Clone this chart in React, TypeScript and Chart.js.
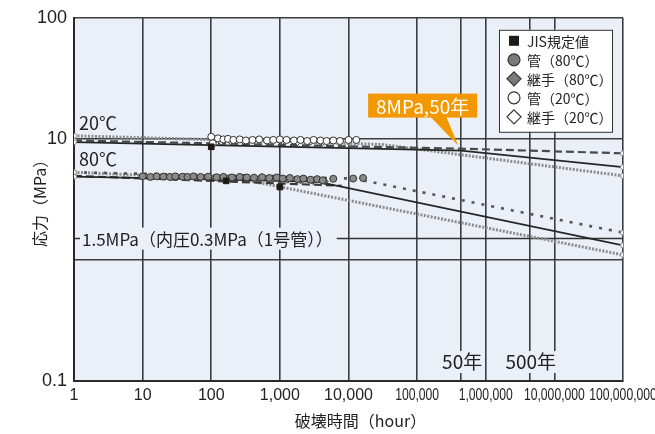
import React, { useEffect, useRef } from "react";
import { Chart, registerables } from "chart.js";
Chart.register(...registerables);

// ---- axis ticks ----
const xTicks = [1, 10, 100, 1000, 10000, 100000, 1000000, 10000000, 100000000];
const xTickLabels = ["1", "10", "100", "1,000", "10,000", "100,000", "1,000,000", "10,000,000", "100,000,000"];
const yTicks = [0.1, 1, 10, 100];
const yTickLabels = ["0.1", "", "10", "100"];
const yearMarks = [438000, 4380000];
const yearLabels = ["50年", "500年"];

// ---- regression / design lines (hours, MPa) ----
const line20SolidX = [1, 438000, 1e8];
const line20SolidY = [9.4, 8.0, 5.85];
const line20DashX = [1, 438000, 1e8];
const line20DashY = [9.7, 8.3, 7.6];
const line20DotX = [1, 30000, 1e8];
const line20DotY = [10.6, 9.0, 4.95];

const line80SolidX = [1, 3500, 1e8];
const line80SolidY = [4.87, 4.43, 1.32];
const line80DashX = [1, 8000];
const line80DashY = [4.95, 4.1];
const line80DotDarkX = [1, 12000, 1e8];
const line80DotDarkY = [5.3, 4.7, 1.68];
const line80DotGreyX = [1, 300, 1e8];
const line80DotGreyY = [5.3, 4.6, 1.1];

const refLineX = [1, 1e8];
const refLineY = [1.5, 1.5];

// ---- measured points ----
const jisX = [100, 165, 1000];
const jisY = [8.6, 4.5, 4.0];

const pipe80X = [10, 13, 16, 20, 25, 30, 38, 45, 55, 70, 90, 120, 150, 200, 260, 330, 420, 550, 700, 900, 1100, 1400, 1800, 2200, 2800, 3500, 4200, 6000, 11700, 16300];
const pipe80Y = [4.9, 4.85, 4.9, 4.88, 4.85, 4.9, 4.87, 4.85, 4.9, 4.85, 4.87, 4.82, 4.85, 4.8, 4.85, 4.8, 4.78, 4.82, 4.75, 4.8, 4.7, 4.75, 4.65, 4.7, 4.6, 4.65, 4.55, 4.68, 4.7, 4.75];
const joint80X = [30, 60, 110, 180, 300, 500, 800, 1300, 2000, 3000, 4500];
const joint80Y = [4.8, 4.82, 4.78, 4.75, 4.8, 4.7, 4.72, 4.6, 4.55, 4.5, 4.45];

const pipe20X = [100, 105, 125, 150, 175, 210, 260, 320, 400, 500, 650, 800, 1000, 1250, 1600, 2000, 2500, 3100, 3900, 4800, 6000, 7500, 10000, 13000];
const pipe20Y = [10.4, 9.2, 10.1, 9.9, 10.0, 9.8, 9.9, 9.7, 9.8, 9.9, 9.7, 9.8, 9.9, 9.8, 9.7, 9.8, 9.6, 9.8, 9.7, 9.6, 9.7, 9.6, 9.8, 9.8];
const joint20X = [110, 140, 190, 300, 450, 700, 1100, 1800, 2800, 4200];
const joint20Y = [9.6, 9.5, 9.6, 9.5, 9.6, 9.5, 9.6, 9.4, 9.5, 9.4];

// ---- annotation anchors ----
const calloutX = 438000;
const calloutY = 8;
const calloutText = "8MPa,50年";
const label20 = "20℃";
const label80 = "80℃";
const refLabel = "1.5MPa（内圧0.3MPa（1号管））";
const legendLabels = ["JIS規定値", "管（80℃）", "継手（80℃）", "管（20℃）", "継手（20℃）"];

const FONT_JP = '"Noto Sans CJK JP", "Noto Sans", sans-serif';
const FONT_NUM = '"Liberation Sans", Arial, sans-serif';
const PLOT_BG = "#ebeff8";
const GRID = "#3d3d3d";

const pts = (xs: number[], ys: number[]) => xs.map((x, i) => ({ x, y: ys[i] }));

const lineDs = (xs: number[], ys: number[], color: string, width: number, dash: number[], ends: boolean) => ({
  type: "line" as const,
  data: pts(xs, ys),
  borderColor: color,
  borderWidth: width,
  borderDash: dash,
  borderCapStyle: "butt" as const,
  fill: false,
  tension: 0,
  pointRadius: (c: any) => (ends && (c.dataIndex === 0 || c.dataIndex === xs.length - 1) ? 2.5 : 0),
  pointBackgroundColor: "#fff",
  pointBorderColor: "#8a8a8a",
  pointBorderWidth: 1,
  order: 5,
});

const scatterDs = (xs: number[], ys: number[], style: string, r: number, fillC: string, borderC: string) => ({
  type: "scatter" as const,
  data: pts(xs, ys),
  showLine: false,
  pointStyle: style,
  pointRadius: r,
  pointBackgroundColor: fillC,
  pointBorderColor: borderC,
  pointBorderWidth: 1,
  backgroundColor: fillC,
  borderColor: borderC,
  order: 1,
});

const bgPlugin = {
  id: "bgPlot",
  beforeDraw(chart: any) {
    const { ctx, chartArea: a } = chart;
    ctx.save();
    ctx.fillStyle = "#fff";
    ctx.fillRect(0, 0, chart.width, chart.height);
    ctx.fillStyle = PLOT_BG;
    ctx.fillRect(a.left, a.top, a.right - a.left, a.bottom - a.top);
    ctx.restore();
  },
};

const annotPlugin = {
  id: "annot",
  afterDatasetsDraw(chart: any) {
    const { ctx, chartArea: a } = chart;
    const xs = chart.scales.x;
    const ys = chart.scales.y;
    ctx.save();

    // x tick labels (condensed for large values)
    ctx.fillStyle = "#222";
    ctx.textAlign = "center";
    ctx.textBaseline = "middle";
    ctx.font = `16px ${FONT_NUM}`;
    xTicks.forEach((v, i) => {
      const px = xs.getPixelForValue(v);
      ctx.save();
      ctx.translate(px, a.bottom + 15);
      if (v >= 1e5) ctx.scale(0.76, 1);
      ctx.fillText(xTickLabels[i], 0, 0);
      ctx.restore();
    });

    // x title
    ctx.font = `16px ${FONT_JP}`;
    ctx.fillText("破壊時間（hour）", (a.left + a.right) / 2 + 12, a.bottom + 40);

    // year labels on vertical lines
    ctx.font = `19px ${FONT_JP}`;
    yearMarks.forEach((v, i) => {
      const px = xs.getPixelForValue(v);
      const w = ctx.measureText(yearLabels[i]).width;
      const cy = a.bottom - 19;
      ctx.fillStyle = PLOT_BG;
      ctx.fillRect(px - w / 2 - 1, cy - 11, w + 2, 22);
      ctx.fillStyle = "#222";
      ctx.fillText(yearLabels[i], px + 1, cy);
    });

    // 1.5 MPa label over its line
    const ry = ys.getPixelForValue(1.5);
    ctx.font = `17px ${FONT_JP}`;
    ctx.textAlign = "left";
    const rw = ctx.measureText(refLabel).width;
    ctx.fillStyle = PLOT_BG;
    ctx.fillRect(a.left + 6, ry - 11, rw + 6, 22);
    ctx.fillStyle = "#222";
    ctx.fillText(refLabel, a.left + 8, ry + 1);

    // temperature labels
    ctx.font = `18px ${FONT_JP}`;
    ctx.textBaseline = "alphabetic";
    ctx.fillText(label20, a.left + 5, ys.getPixelForValue(10) - 9);
    ctx.fillText(label80, a.left + 5, ys.getPixelForValue(5.3) - 6);

    ctx.restore();
  },
  afterDraw(chart: any) {
    const { ctx, chartArea: a } = chart;
    const xs = chart.scales.x;
    const ys = chart.scales.y;
    ctx.save();

    // callout
    const px = xs.getPixelForValue(calloutX);
    const py = ys.getPixelForValue(calloutY);
    const bx = px - 93, by = py - 57, bw = 109, bh = 24;
    ctx.fillStyle = "#f39800";
    ctx.fillRect(bx, by, bw, bh);
    ctx.beginPath();
    ctx.moveTo(px - 31, by + bh - 1);
    ctx.lineTo(px - 15, by + bh - 1);
    ctx.lineTo(px - 3, py - 5);
    ctx.closePath();
    ctx.fill();
    ctx.fillStyle = "#fff";
    ctx.font = `19px ${FONT_JP}`;
    ctx.textAlign = "center";
    ctx.textBaseline = "middle";
    ctx.fillText(calloutText, bx + bw / 2, by + bh / 2 + 1);

    // legend
    const lx = a.right - 124, ly = a.top + 12, lw = 113, lh = 102;
    ctx.fillStyle = "#fff";
    ctx.fillRect(lx, ly, lw, lh);
    ctx.strokeStyle = "#333";
    ctx.lineWidth = 1;
    ctx.strokeRect(lx + 0.5, ly + 0.5, lw, lh);
    ctx.font = `14px ${FONT_JP}`;
    ctx.textAlign = "left";
    ctx.textBaseline = "middle";
    legendLabels.forEach((t, i) => {
      const cy = ly + 11 + i * 19;
      const cx = lx + 15;
      ctx.lineWidth = 1.2;
      ctx.strokeStyle = "#333";
      if (i === 0) {
        ctx.fillStyle = "#1e1a18";
        ctx.fillRect(cx - 5, cy - 5, 10, 10);
      } else if (i === 1 || i === 3) {
        ctx.beginPath();
        ctx.arc(cx, cy, 6, 0, Math.PI * 2);
        ctx.fillStyle = i === 1 ? "#7a7a7a" : "#fff";
        ctx.fill();
        ctx.stroke();
      } else {
        ctx.beginPath();
        ctx.moveTo(cx, cy - 7);
        ctx.lineTo(cx + 7, cy);
        ctx.lineTo(cx, cy + 7);
        ctx.lineTo(cx - 7, cy);
        ctx.closePath();
        ctx.fillStyle = i === 2 ? "#7a7a7a" : "#fff";
        ctx.fill();
        ctx.stroke();
      }
      ctx.fillStyle = "#222";
      ctx.fillText(t, lx + 28, cy + 1);
    });
    ctx.restore();
  },
};

export default function App() {
  const ref = useRef<HTMLCanvasElement>(null);
  useEffect(() => {
    const canvas = ref.current!;
    const datasets: any[] = [
      scatterDs(jisX, jisY, "rect", 4, "#1e1a18", "#1e1a18"),
      scatterDs(pipe20X, pipe20Y, "circle", 3.5, "#fff", "#333"),
      scatterDs(joint20X, joint20Y, "rectRot", 3.5, "#fff", "#333"),
      scatterDs(pipe80X, pipe80Y, "circle", 3.5, "#8a8a8a", "#333"),
      scatterDs(joint80X, joint80Y, "rectRot", 3.5, "#7a7a7a", "#333"),
      lineDs(line20SolidX, line20SolidY, "#262626", 1.8, [], true),
      lineDs(line20DashX, line20DashY, "#4a4a4a", 2.2, [8, 4], true),
      lineDs(line20DotX, line20DotY, "#8c8c8c", 3, [2, 1.5], true),
      lineDs(line80SolidX, line80SolidY, "#262626", 1.8, [], true),
      lineDs(line80DashX, line80DashY, "#3a3a3a", 2.2, [8, 4], false),
      lineDs(line80DotDarkX, line80DotDarkY, "#555", 2.6, [3, 7], true),
      lineDs(line80DotGreyX, line80DotGreyY, "#8c8c8c", 3, [2, 1.5], true),
      { ...lineDs(refLineX, refLineY, "#333", 1.5, [], false), order: 8 },
    ];
    const chart = new Chart(canvas, {
      type: "line",
      data: { datasets },
      options: {
        animation: false,
        responsive: false,
        devicePixelRatio: 1,
        layout: { autoPadding: false, padding: { left: 0, right: 32, top: 10, bottom: 0 } } as any,
        plugins: { legend: { display: false }, tooltip: { enabled: false } },
        scales: {
          x: {
            type: "logarithmic",
            min: 1,
            max: 1e8,
            afterBuildTicks: (s: any) => {
              s.ticks = [...xTicks, ...yearMarks].sort((p, q) => p - q).map((v) => ({ value: v }));
            },
            afterFit: (s: any) => {
              s.height = 53;
            },
            ticks: { display: false },
            grid: { color: GRID, lineWidth: 1.6, drawTicks: false },
            border: { display: true, color: "#2a2a2a", width: 2 },
          },
          y: {
            type: "logarithmic",
            min: 0.1,
            max: 100,
            afterBuildTicks: (s: any) => {
              s.ticks = yTicks.map((v) => ({ value: v }));
            },
            afterFit: (s: any) => {
              s.width = 74;
            },
            ticks: {
              padding: 7,
              color: "#222",
              font: { family: FONT_NUM, size: 18 },
              callback: (_v: any, i: number) => yTickLabels[i],
            },
            grid: { color: GRID, lineWidth: 1.6, drawTicks: false },
            border: { display: true, color: "#2a2a2a", width: 2 },
            title: {
              display: true,
              text: "応力（MPa）",
              color: "#222",
              font: { family: FONT_JP, size: 16 },
              padding: { top: 30, bottom: 0 },
            },
          },
        },
      },
      plugins: [bgPlugin, annotPlugin],
    });
    return () => chart.destroy();
  }, []);
  return (
    <div style={{ position: "fixed", left: 0, top: 0, width: 655, height: 434, background: "#fff", overflow: "hidden" }}>
      <canvas ref={ref} width={655} height={434} style={{ display: "block", width: 655, height: 434 }} />
    </div>
  );
}
